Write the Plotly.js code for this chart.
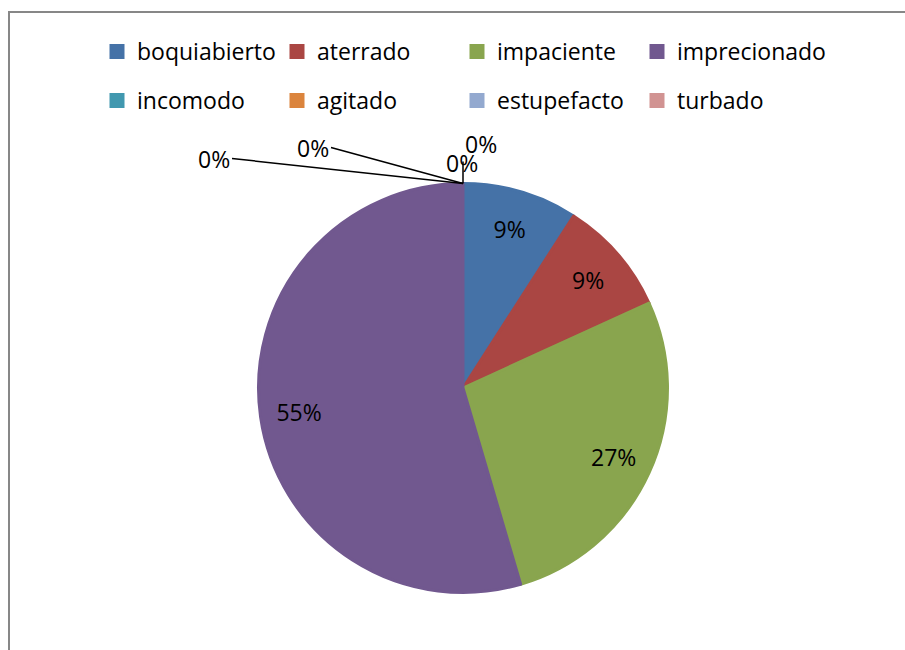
<!DOCTYPE html>
<html><head><meta charset="utf-8">
<script src="https://cdn.plot.ly/plotly-3.0.1.min.js"></script>
<style>
html,body{margin:0;padding:0;background:#fff;overflow:hidden}
#frame{position:absolute;left:8px;top:11px;width:1000px;height:1000px;border-left:2px solid #878787;border-top:2px solid #878787;}
#chart{position:absolute;left:0;top:0;width:905px;height:650px;}
</style></head><body>
<div id="frame"></div><div id="chart"></div>
<script>
// data
const labels = ['boquiabierto', 'aterrado', 'impaciente', 'imprecionado',
                'incomodo', 'agitado', 'estupefacto', 'turbado'];
const values = [1, 1, 3, 6, 0, 0, 0, 0];
// styles
const colors = ['#4572A7', '#AA4643', '#89A54E', '#71588F',
                '#4198AF', '#DB843D', '#93A9CF', '#D19392'];

const W = 905, H = 650;
const px = x => x / W, py = y => 1 - y / H;
const font = {family: 'Open Sans, Lato, sans-serif', size: 23, color: '#000'};

const cx = 463, cy = 388, R = 204.5;
const dom = {x: [px(cx - R), px(cx + R)], y: [py(cy + R), py(cy - R)]};
const tinyDom = {x: [px(cx), px(cx) + 0.00005], y: [py(cy), py(cy) + 0.00005]};

const total = values.reduce((a, b) => a + b, 0);
const isZero = values.map(v => v === 0);

// main pie (slices)
const tracePie = {
  type: 'pie', labels: labels, values: values,
  marker: {colors: colors, line: {color: colors, width: isZero.map(z => z ? 0 : 3)}},
  domain: dom, sort: false, direction: 'clockwise', rotation: 0,
  textinfo: 'none', hoverinfo: 'skip', showlegend: false
};
// transparent ring with the same data, carrying the percentage labels
const traceText = {
  type: 'pie', labels: labels, values: values, hole: 0.62,
  marker: {colors: labels.map(() => 'rgba(0,0,0,0)'), line: {width: 0}},
  domain: dom, sort: false, direction: 'clockwise', rotation: 0,
  texttemplate: '%{percent:.0%}',
  textposition: isZero.map(z => z ? 'none' : 'inside'),
  insidetextorientation: 'horizontal',
  textfont: font, hoverinfo: 'skip', showlegend: false
};
// legend carriers (hidden under the main pie)
function legendCarrier(from, to, legendId, withValues) {
  const t = {
    type: 'pie', labels: labels.slice(from, to),
    marker: {colors: colors.slice(from, to), line: {color: colors.slice(from, to), width: 3}},
    domain: tinyDom, sort: false, textinfo: 'none', hoverinfo: 'skip', legend: legendId
  };
  if (withValues) t.values = values.slice(from, to);
  return t;
}
const traceLeg1 = legendCarrier(0, 3, 'legend', true);
const traceLeg3 = legendCarrier(3, 4, 'legend3', true);
const traceLeg2 = legendCarrier(4, 8, 'legend2', false);

// zero-value labels with leader lines to the top of the pie
const topX = px(cx), topY = py(cy - R);
const zeroPlacement = [
  {ax: -231, ay: -25, xanchor: 'right', yanchor: 'middle', arrow: true},
  {ax: -132, ay: -36, xanchor: 'right', yanchor: 'middle', arrow: true},
  {xshift: -1, yshift: 21, xanchor: 'center', yanchor: 'middle', arrow: false},
  {ax: 0, ay: -22, xanchor: 'left', yanchor: 'bottom', arrow: true}
];
const zeroIdx = values.map((v, i) => i).filter(i => isZero[i]);
const annotations = zeroIdx.map((idx, k) => {
  const p = zeroPlacement[k];
  return {
    x: topX, y: topY, xref: 'paper', yref: 'paper',
    text: Math.round(values[idx] / total * 100) + '%',
    showarrow: p.arrow, arrowhead: 0, arrowwidth: 1.5, arrowcolor: '#000', standoff: 0,
    ax: p.ax || 0, ay: p.ay || 0, xshift: p.xshift || 0, yshift: p.yshift || 0,
    xanchor: p.xanchor, yanchor: p.yanchor, font: font
  };
});

const legendBase = {
  orientation: 'h', xanchor: 'left', yanchor: 'top',
  font: font, entrywidth: 135, entrywidthmode: 'pixels',
  bgcolor: 'rgba(0,0,0,0)', traceorder: 'normal'
};

const layout = {
  width: W, height: H, margin: {l: 0, r: 0, t: 0, b: 0},
  paper_bgcolor: 'rgba(0,0,0,0)', plot_bgcolor: 'rgba(0,0,0,0)',
  showlegend: true,
  legend: Object.assign({}, legendBase, {x: px(97), y: py(30)}),
  legend3: Object.assign({}, legendBase, {x: px(637), y: py(30), entrywidth: 0}),
  legend2: Object.assign({}, legendBase, {x: px(97), y: py(79)}),
  annotations: annotations,
  font: font
};

Plotly.newPlot('chart', [traceLeg1, traceLeg3, traceLeg2, tracePie, traceText], layout, {displayModeBar: false, staticPlot: true});
</script>
</body></html>
